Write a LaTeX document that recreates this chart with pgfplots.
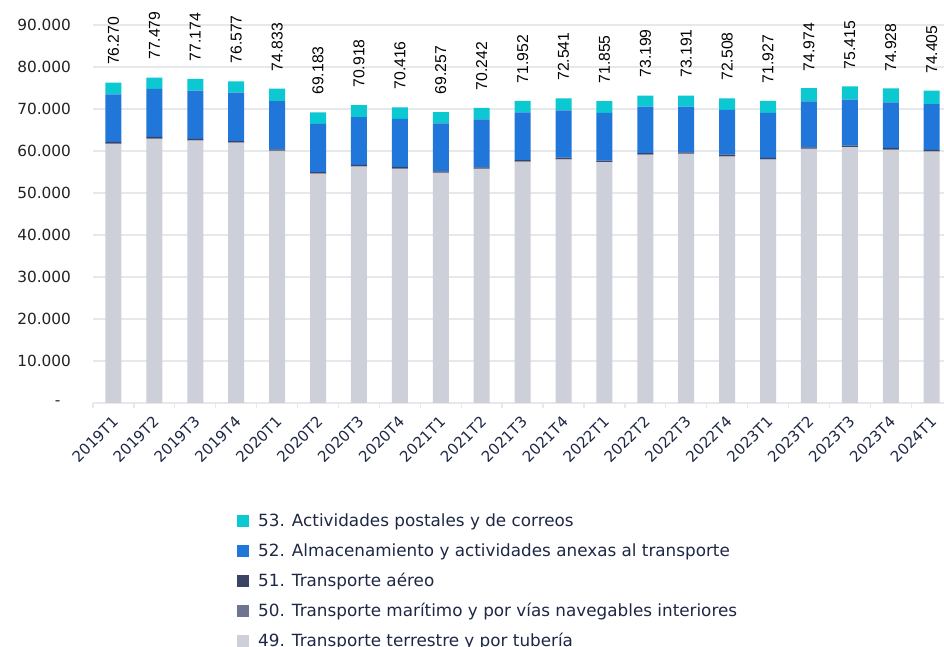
\documentclass[border=0pt]{standalone}
\usepackage{fontspec}
\setmainfont{DejaVu Sans}
\newfontfamily\lib{Liberation Sans}
\usepackage{pgfplots}
\usepackage{pgfplotstable}
\pgfplotsset{compat=1.18}
\definecolor{c49}{HTML}{CDD0D8}
\definecolor{c50}{HTML}{6E7591}
\definecolor{c51}{HTML}{3C4466}
\definecolor{c52}{HTML}{2176D9}
\definecolor{c53}{HTML}{0BC8D1}
\definecolor{navy}{HTML}{1E2745}
\definecolor{gridgray}{HTML}{E6E8EC}
\definecolor{ylab}{HTML}{222222}

\pgfplotstableread{
x q v49 v50 v51 v52 v53 tot
0 2019T1 61700 150 300 11330 2790 76270
1 2019T2 62899 150 300 11430 2700 77479
2 2019T3 62444 150 300 11500 2780 77174
3 2019T4 61927 150 300 11500 2700 76577
4 2020T1 59933 150 300 11500 2950 74833
5 2020T2 54533 150 300 11500 2700 69183
6 2020T3 56258 150 300 11350 2860 70918
7 2020T4 55756 150 300 11430 2780 70416
8 2021T1 54677 150 300 11430 2700 69257
9 2021T2 55662 150 300 11430 2700 70242
10 2021T3 57372 150 300 11350 2780 71952
11 2021T4 57961 150 300 11270 2860 72541
12 2022T1 57275 150 300 11350 2780 71855
13 2022T2 59029 150 300 11100 2620 73199
14 2022T3 59251 150 300 10870 2620 73191
15 2022T4 58658 150 300 10700 2700 72508
16 2023T1 57917 150 300 10700 2860 71927
17 2023T2 60404 150 300 10950 3170 74974
18 2023T3 60845 150 300 10950 3170 75415
19 2023T4 60278 150 300 10870 3330 74928
20 2024T1 59835 150 300 10870 3250 74405
}\data

\begin{document}
\begin{tikzpicture}
\begin{axis}[
  scale only axis, width=638.25pt, height=283.5pt,
  xmin=-0.5, xmax=20.3, ymin=0, ymax=90000,
  ybar stacked, bar width=12pt,
  scaled y ticks=false,
  xtick=data, xticklabels from table={\data}{q},
  minor xtick={-0.5,0.5,...,20.5},
  major tick length=0pt, minor tick length=4pt, tick align=outside,
  minor tick style={gridgray, line width=1pt},
  ytick={0,10000,20000,30000,40000,50000,60000,70000,80000,90000},
  yticklabels={{-\hspace*{8pt}},10.000,20.000,30.000,40.000,50.000,60.000,70.000,80.000,90.000},
  ymajorgrids, major grid style={gridgray, line width=1pt},
  axis lines*=left,
  y axis line style={draw=none},
  x axis line style={gridgray, line width=1pt},
  xticklabel style={rotate=45, anchor=north east, font=\fontsize{11.3}{13}\selectfont, text=navy, inner sep=1pt, xshift=-6.4pt, yshift=-4pt},
  yticklabel style={font=\fontsize{11.5}{14}\selectfont, text=ylab, xshift=-13pt},
  reverse legend,
  legend style={at={(axis description cs:0.164,-0.278)}, anchor=north west, draw=none, fill=none,
    font=\fontsize{12.6}{14}\selectfont, text=navy, row sep=7.1pt,
    /tikz/every odd column/.append style={column sep=5pt}},
  legend cell align=left,
  legend image code/.code={\fill[#1,draw=none] (0pt,-4.5pt) rectangle (9pt,4.5pt);},
]
\addplot[fill=c49, draw=none] table[x=x, y=v49] {\data};
\addplot[fill=c50, draw=none] table[x=x, y=v50] {\data};
\addplot[fill=c51, draw=none] table[x=x, y=v51] {\data};
\addplot[fill=c52, draw=none] table[x=x, y=v52] {\data};
\addplot[fill=c53, draw=none, point meta=explicit,
  nodes near coords={\lib\pgfmathprintnumber[fixed,precision=0,1000 sep={.},assume math mode=true]{\pgfplotspointmeta}},
  every node near coord/.append style={rotate=90, anchor=west, inner xsep=17.5pt, inner ysep=0pt, font=\fontsize{11.8}{14}\selectfont, text=black}
  ] table[x=x, y=v53, meta=tot] {\data};
\legend{49. Transporte terrestre y por tubería, 50. Transporte marítimo y por vías navegables interiores, 51. Transporte aéreo, 52. Almacenamiento y actividades anexas al transporte, 53. Actividades postales y de correos}
\end{axis}
\pgfresetboundingbox
\path[use as bounding box] ([xshift=-69.75pt,yshift=-183pt]current axis.south west) rectangle ([yshift=18.75pt]current axis.north east);
\end{tikzpicture}
\end{document}
